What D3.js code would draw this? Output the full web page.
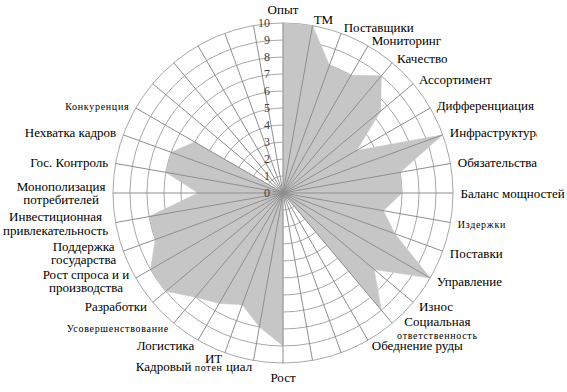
<!DOCTYPE html>
<html><head><meta charset="utf-8">
<script src="https://cdn.jsdelivr.net/npm/d3@7"></script>
<style>html,body{margin:0;padding:0;background:#fff;}svg{display:block;}
text{font-family:"Liberation Serif","Times New Roman","DejaVu Serif",serif;}</style>
</head><body>
<svg id="chart" width="567" height="392"></svg>
<script>
const categories = ["Опыт","ТМ","Поставщики","Мониторинг","Качество","Ассортимент","Дифференциация","Инфраструктура","Обязательства","Баланс мощностей","Издержки","Поставки","Управление","Износ","Социальная ответственность","Обеднение руды","","","Рост","Кадровый потенциал","ИТ","Логистика","Усовершенствование","Разработки","Рост спроса и и производства","Поддержка государства","Инвестиционная привлекательность","Монополизация потребителей","Гос. Контроль","Нехватка кадров","Конкуренция","","","","",""];
const values = [10,10,8,8,9,7.5,5,10,7,7,6,7,10,7,9,0,0,0,9,8,7,7.5,8,9,9,8,8,5,7,7,6,0,0,0,0,0];
const tickValues = [0,1,2,3,4,5,6,7,8,9,10];

// label formatting: lines of [text, small?] segments
const labelFormat = {
  "Социальная ответственность": [[["Социальная",0]],[["ответственность",1]]],
  "Кадровый потенциал": [[["Кадровый ",0],["потен",1],[" циал",0]]],
  "Рост спроса и и производства": [[["Рост спроса и и",0]],[["производства",0]]],
  "Поддержка государства": [[["Поддержка",0]],[["государства",0]]],
  "Инвестиционная привлекательность": [[["Инвестиционная",0]],[["привлекательность",0]]],
  "Монополизация потребителей": [[["Монополизация",0]],[["потребителей",0]]],
  "Издержки": [[["Издержки",1]]],
  "Конкуренция": [[["Конкуренция",1]]],
  "Усовершенствование": [[["Усовершенствование",1]]]
};
const clipped = new Set(["Инфраструктура","Обязательства"]);

const svg = d3.select("#chart");
const cx = 283, cy = 193, R = 170;
const n = categories.length;
const r = d3.scaleLinear().domain([0,10]).range([0,R]);
const ang = d3.scaleLinear().domain([0,n]).range([0,2*Math.PI]);
const g = svg.append("g").attr("transform",`translate(${cx},${cy})`);

svg.append("defs").append("clipPath").attr("id","rclip")
  .append("rect").attr("x",0).attr("y",0).attr("width",537).attr("height",392);

// rings
g.selectAll("circle.ring").data(tickValues.slice(1)).enter().append("circle")
  .attr("r",d=>r(d)).attr("fill","none").attr("stroke","#a8a8a8").attr("stroke-width",1);

// filled area
const line = d3.lineRadial().angle((d,i)=>ang(i)).radius(d=>r(d)).curve(d3.curveLinearClosed);
g.append("path").datum(values).attr("d",line).attr("fill","#c6c6c6").attr("stroke","#c6c6c6").attr("stroke-width",0.5);

// spokes
g.selectAll("line.spoke").data(categories).enter().append("line")
  .attr("x1",0).attr("y1",0)
  .attr("x2",(d,i)=>R*Math.sin(ang(i))).attr("y2",(d,i)=>-R*Math.cos(ang(i)))
  .attr("stroke","#8f8f8f").attr("stroke-width",1);

// tick labels
g.selectAll("text.tick").data(tickValues).enter().append("text")
  .attr("x",-13).attr("y",d=>-r(d)+4)
  .attr("text-anchor","end")
  .attr("font-size",12).attr("fill","#404040")
  .text(d=>d);

// category labels
const lg = svg.append("g");
categories.forEach((name,i)=>{
  if(!name) return;
  const a = ang(i), s = Math.sin(a), c = Math.cos(a);
  const ex = cx + R*s, ey = cy - R*c;
  const side = s > 0.01 ? "right" : (s < -0.01 ? "left" : "middle");
  const yc = ey - 6*c - (side==="middle" ? 8*c : 0);
  const lines = labelFormat[name] || [[[name,0]]];
  const lh = 13.5;
  const grp = lg.append("g");
  if(clipped.has(name)) grp.attr("clip-path","url(#rclip)");
  const texts = lines.map((segs,k)=>{
    const t = grp.append("text")
      .attr("y", yc - (lines.length-1)*lh/2 + k*lh + 4.5)
      .attr("text-anchor","middle")
      .attr("font-size",13).attr("fill","#000");
    segs.forEach(([txt,small])=>{
      const ts = t.append("tspan").text(txt);
      if(small) ts.attr("font-size",10).attr("letter-spacing",0.7);
    });
    return t;
  });
  const W = d3.max(texts, t=>t.node().getComputedTextLength());
  let xc;
  if(side==="right") xc = ex + 7.5*s + W/2;
  else if(side==="left") xc = ex + 7.5*s - W/2;
  else xc = ex;
  texts.forEach(t=>t.attr("x",xc));
});
</script>
</body></html>
